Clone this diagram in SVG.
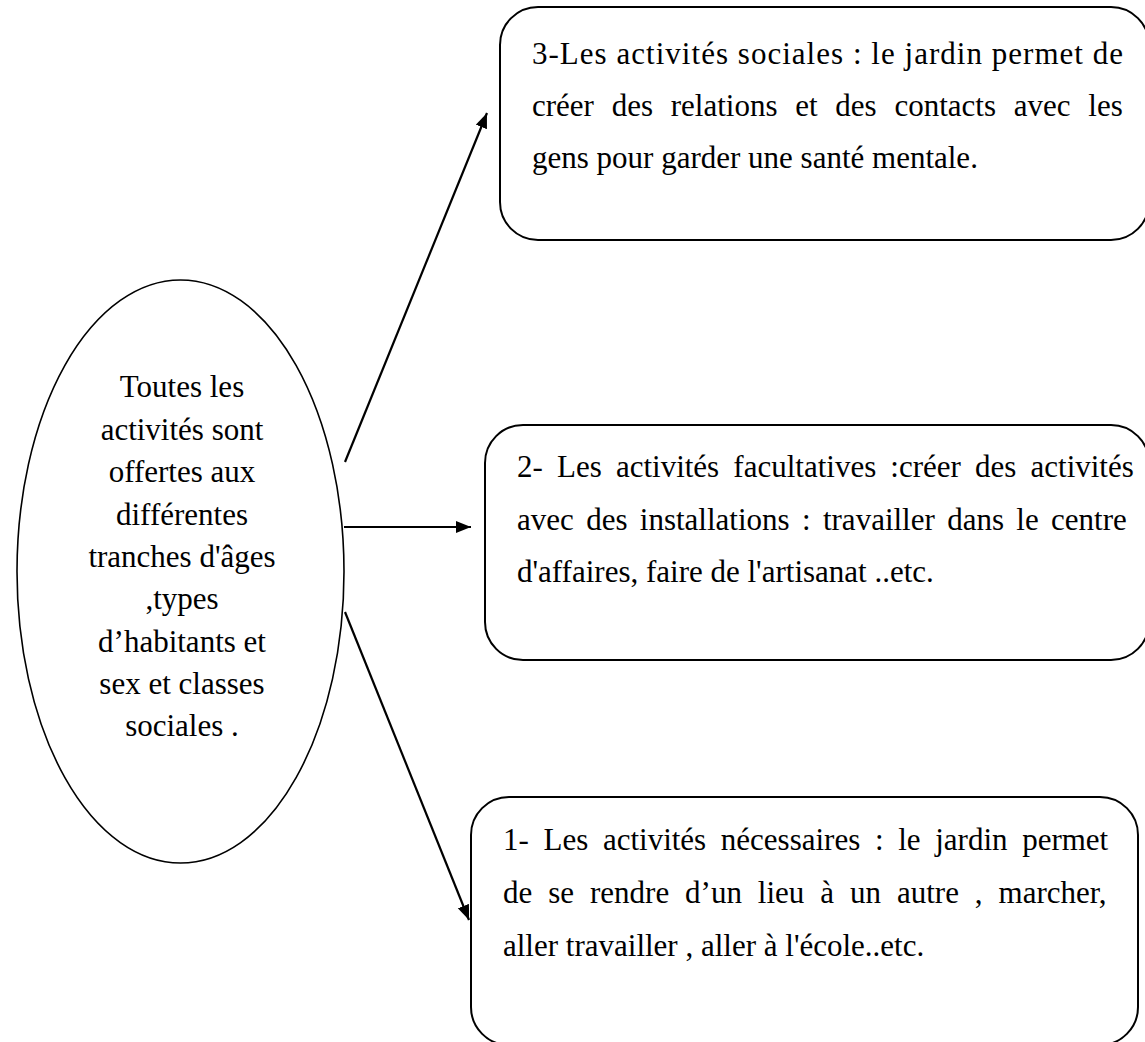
<svg xmlns="http://www.w3.org/2000/svg" width="1145" height="1042" viewBox="0 0 1145 1042">
<defs>
<style>
.box{fill:#fff;stroke:#000;stroke-width:2}
.ell{fill:#fff;stroke:#000;stroke-width:1.6}
.t{font-family:"Liberation Serif","Times New Roman",serif;font-size:31px;fill:#000}
.c{text-anchor:middle}
.con{stroke:#000;stroke-width:2.2;fill:none;marker-end:url(#ah)}
</style>
<marker id="ah" markerUnits="userSpaceOnUse" markerWidth="18" markerHeight="14" refX="15" refY="6" orient="auto">
<path d="M0,0 L15,6 L0,12 Z" fill="#000"/>
</marker>
</defs>
<rect width="1145" height="1042" fill="#fff"/>
<g id="center">
<ellipse class="ell" cx="180.5" cy="571.5" rx="163.5" ry="291.5"/>
<text class="t c" x="182" y="397">Toutes les</text>
<text class="t c" x="182" y="440">activités sont</text>
<text class="t c" x="182" y="482">offertes aux</text>
<text class="t c" x="182" y="525">différentes</text>
<text class="t c" x="182" y="567">tranches d'âges</text>
<text class="t c" x="182" y="609">,types</text>
<text class="t c" x="182" y="652">d’habitants et</text>
<text class="t c" x="182" y="694">sex et classes</text>
<text class="t c" x="182" y="736">sociales .</text>
</g>
<g id="sociales">
<rect class="box" x="500" y="7" width="649" height="233" rx="38" ry="38"/>
<text class="t" x="532" y="64" textLength="591" lengthAdjust="spacing">3-Les activités sociales : le jardin permet de</text>
<text class="t" x="532" y="116" word-spacing="10">créer des relations et des contacts avec les</text>
<text class="t" x="532" y="168">gens pour garder une santé mentale.</text>
</g>
<g id="facultatives">
<rect class="box" x="485" y="425" width="664" height="235" rx="38" ry="38"/>
<text class="t" x="517" y="477" word-spacing="6.4">2- Les activités facultatives :créer des activités</text>
<text class="t" x="517" y="529.5" word-spacing="4.6">avec des installations : travailler dans le centre</text>
<text class="t" x="517" y="582">d'affaires, faire de l'artisanat ..etc.</text>
</g>
<g id="necessaires">
<rect class="box" x="471" y="797" width="667" height="248" rx="38" ry="38"/>
<text class="t" x="503" y="850" word-spacing="6.9">1- Les activités nécessaires : le jardin permet</text>
<text class="t" x="503" y="903" word-spacing="8.2">de se rendre d’un lieu à un autre , marcher,</text>
<text class="t" x="503" y="956">aller travailler , aller à l'école..etc.</text>
</g>
<g id="connectors">
<line class="con" x1="345" y1="462" x2="487" y2="113"/>
<line class="con" x1="344" y1="527" x2="471" y2="527"/>
<line class="con" x1="345" y1="612" x2="469" y2="920"/>
</g>
</svg>
